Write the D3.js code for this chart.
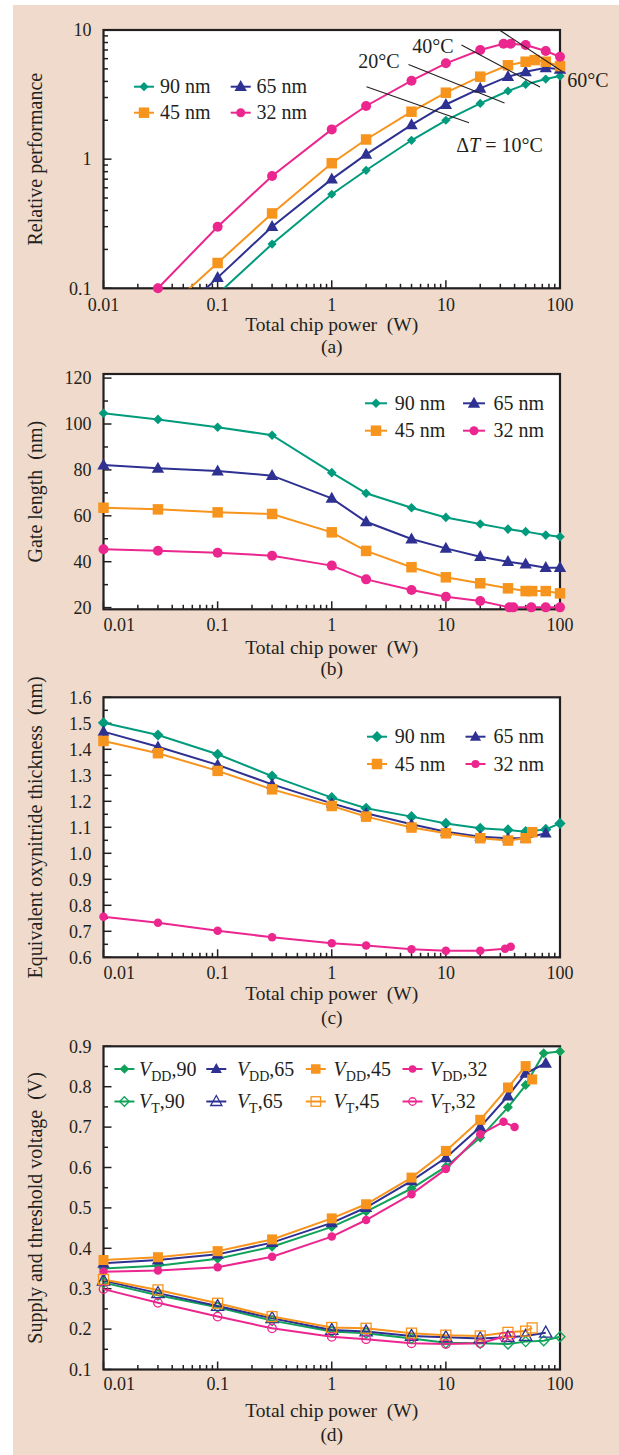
<!DOCTYPE html>
<html><head><meta charset="utf-8">
<script src="https://cdn.jsdelivr.net/npm/d3@7"></script>
<style>
body{margin:0;background:#fff}
svg{display:block}
svg text{font-family:"Liberation Serif","DejaVu Serif",serif;fill:#231f20}
</style>
</head><body>
<svg id="c" width="619" height="1455" font-family="Liberation Serif, DejaVu Serif, serif"></svg>
<script>
// ---------- DATA ----------
const powerTicks = [0.01, 0.1, 1, 10, 100];
const powerTickLabels = ["0.01", "0.1", "1", "10", "100"];

// (a) Relative performance
const a_x90 = [0.1, 0.3, 1, 2, 5, 10, 20, 35, 50, 75, 100];
const a_y90 = [0.09, 0.22, 0.535, 0.82, 1.40, 2.0, 2.70, 3.37, 3.79, 4.17, 4.4];
const a_x65 = [0.03, 0.1, 0.3, 1, 2, 5, 10, 20, 35, 50, 75, 100];
const a_y65 = [0.045, 0.121, 0.30, 0.70, 1.09, 1.84, 2.65, 3.53, 4.35, 4.75, 5.1, 4.96];
const a_x45 = [0.03, 0.1, 0.3, 1, 2, 5, 10, 20, 35, 50, 60, 75, 100];
const a_y45 = [0.06, 0.157, 0.38, 0.93, 1.42, 2.33, 3.27, 4.35, 5.33, 5.68, 5.85, 5.68, 5.26];
const a_x32 = [0.03, 0.1, 0.3, 1, 2, 5, 10, 20, 32, 37, 50, 75, 100];
const a_y32 = [0.1, 0.30, 0.74, 1.70, 2.58, 4.05, 5.52, 7.0, 7.83, 7.83, 7.65, 6.88, 6.2];
const a_yTicks = [0.1, 1, 10];
const a_yTickLabels = ["0.1", "1", "10"];

// (b) Gate length (nm)
const b_x90 = [0.01, 0.03, 0.1, 0.3, 1, 2, 5, 10, 20, 35, 50, 75, 100];
const b_y90 = [104.7, 102.0, 98.6, 95.1, 78.8, 69.8, 63.5, 59.3, 56.4, 54.2, 53.1, 51.6, 50.9];
const b_x65 = [0.01, 0.03, 0.1, 0.3, 1, 2, 5, 10, 20, 35, 50, 75, 100];
const b_y65 = [82.1, 80.7, 79.5, 77.5, 67.6, 57.4, 49.9, 45.8, 42.2, 40.0, 38.9, 37.4, 37.4];
const b_x45 = [0.01, 0.03, 0.1, 0.3, 1, 2, 5, 10, 20, 35, 50, 57, 75, 100];
const b_y45 = [63.5, 62.8, 61.5, 60.8, 52.8, 44.7, 37.6, 33.2, 30.6, 28.4, 27.2, 27.2, 27.2, 26.2];
const b_x32 = [0.01, 0.03, 0.1, 0.3, 1, 2, 5, 10, 20, 36, 39, 56, 75, 100];
const b_y32 = [45.4, 44.8, 43.9, 42.6, 38.3, 32.3, 27.7, 24.7, 22.9, 20.1, 20.1, 20.1, 20.1, 20.1];
const b_yTicks = [20, 40, 60, 80, 100, 120];
const b_yMinor = [30, 50, 70, 90, 110];

// (c) Equivalent oxynitride thickness (nm)
const c_x90 = [0.01, 0.03, 0.1, 0.3, 1, 2, 5, 10, 20, 35, 50, 75, 100];
const c_y90 = [1.502, 1.455, 1.381, 1.297, 1.214, 1.173, 1.141, 1.115, 1.096, 1.090, 1.083, 1.092, 1.115];
const c_x65 = [0.01, 0.03, 0.1, 0.3, 1, 2, 5, 10, 20, 35, 50, 75];
const c_y65 = [1.468, 1.410, 1.340, 1.265, 1.192, 1.154, 1.112, 1.083, 1.064, 1.058, 1.058, 1.077];
const c_x45 = [0.01, 0.03, 0.1, 0.3, 1, 2, 5, 10, 20, 35, 50, 57];
const c_y45 = [1.432, 1.385, 1.317, 1.246, 1.182, 1.141, 1.099, 1.077, 1.058, 1.049, 1.058, 1.081];
const c_x32 = [0.01, 0.03, 0.1, 0.3, 1, 2, 5, 10, 20, 33, 37];
const c_y32 = [0.756, 0.733, 0.702, 0.677, 0.654, 0.645, 0.631, 0.625, 0.625, 0.633, 0.641];
const c_yTicks = [0.6, 0.7, 0.8, 0.9, 1.0, 1.1, 1.2, 1.3, 1.4, 1.5, 1.6];
const c_yMinor = [0.65, 0.75, 0.85, 0.95, 1.05, 1.15, 1.25, 1.35, 1.45, 1.55];

// (d) Supply and threshold voltage (V)
const d_xVdd90 = [0.01, 0.03, 0.1, 0.3, 1, 2, 5, 10, 20, 35, 50, 72, 100];
const d_yVdd90 = [0.350, 0.357, 0.374, 0.404, 0.453, 0.491, 0.548, 0.602, 0.674, 0.749, 0.804, 0.883, 0.887];
const d_xVdd65 = [0.01, 0.03, 0.1, 0.3, 1, 2, 5, 10, 20, 35, 50, 75];
const d_yVdd65 = [0.363, 0.371, 0.385, 0.414, 0.463, 0.501, 0.567, 0.624, 0.700, 0.777, 0.833, 0.858];
const d_xVdd45 = [0.01, 0.03, 0.1, 0.3, 1, 2, 5, 10, 20, 35, 50, 57];
const d_yVdd45 = [0.371, 0.378, 0.393, 0.422, 0.474, 0.509, 0.575, 0.641, 0.718, 0.798, 0.851, 0.818];
const d_xVdd32 = [0.01, 0.03, 0.1, 0.3, 1, 2, 5, 10, 20, 32, 40];
const d_yVdd32 = [0.342, 0.345, 0.353, 0.379, 0.429, 0.470, 0.534, 0.596, 0.682, 0.713, 0.700];
const d_xVt90 = [0.01, 0.03, 0.1, 0.3, 1, 2, 5, 10, 20, 35, 50, 72, 100];
const d_yVt90 = [0.315, 0.284, 0.254, 0.221, 0.194, 0.190, 0.177, 0.166, 0.165, 0.163, 0.169, 0.171, 0.181];
const d_xVt65 = [0.01, 0.03, 0.1, 0.3, 1, 2, 5, 10, 20, 35, 50, 75];
const d_yVt65 = [0.320, 0.289, 0.257, 0.227, 0.198, 0.194, 0.183, 0.180, 0.177, 0.180, 0.183, 0.191];
const d_xVt45 = [0.01, 0.03, 0.1, 0.3, 1, 2, 5, 10, 20, 35, 50, 57];
const d_yVt45 = [0.323, 0.297, 0.264, 0.231, 0.204, 0.202, 0.190, 0.185, 0.183, 0.192, 0.195, 0.203];
const d_xVt32 = [0.01, 0.03, 0.1, 0.3, 1, 2, 5, 10, 20, 32, 37];
const d_yVt32 = [0.299, 0.265, 0.231, 0.202, 0.181, 0.175, 0.165, 0.163, 0.165, 0.181, 0.183];
const d_yTicks = [0.1, 0.2, 0.3, 0.4, 0.5, 0.6, 0.7, 0.8, 0.9];
const d_yMinor = [0.15, 0.25, 0.35, 0.45, 0.55, 0.65, 0.75, 0.85];

const nodeLabels = ["90 nm", "65 nm", "45 nm", "32 nm"];

// ---------- STYLE ----------
const FONT = "Liberation Serif, DejaVu Serif, serif";
const INK = "#231f20";
const cGreen = "#009a7c", cGreenD = "#10a25a", cBlue = "#2e3192", cOrange = "#f7941d", cPink = "#ec268f";
const L = 103.5, R = 560;
const x = d3.scaleLog().domain([0.01, 100]).range([L, R]);

const svg = d3.select("#c");
svg.append("rect").attr("x", 13).attr("y", 5).attr("width", 606).attr("height", 1450).attr("fill", "#efdacb");
const defs = svg.append("defs");

function txt(g) { return g.append("text").attr("font-family", FONT).attr("fill", INK); }

function logTicks(lo, hi) {
  const out = [];
  for (let e = Math.floor(Math.log10(lo)); e <= Math.ceil(Math.log10(hi)); e++)
    for (let k = 1; k < 10; k++) {
      const v = k * Math.pow(10, e);
      if (v >= lo * 0.999 && v <= hi * 1.001) out.push({ v, major: k === 1 });
    }
  return out;
}

function marker(g, shape, cx, cy, sz, color, open) {
  let el;
  if (shape === "diamond") {
    const s = sz;
    el = g.append("path").attr("d", `M${cx},${cy - s}L${cx + s},${cy}L${cx},${cy + s}L${cx - s},${cy}Z`);
  } else if (shape === "square") {
    el = g.append("rect").attr("x", cx - sz / 2).attr("y", cy - sz / 2).attr("width", sz).attr("height", sz);
  } else if (shape === "triangle") {
    const w = sz * 1.12, h = sz;
    el = g.append("path").attr("d", `M${cx},${cy - h * 0.6}L${cx + w / 2},${cy + h * 0.4}L${cx - w / 2},${cy + h * 0.4}Z`);
  } else {
    el = g.append("circle").attr("cx", cx).attr("cy", cy).attr("r", sz / 2);
  }
  if (open) el.attr("fill", "none").attr("stroke", color).attr("stroke-width", 1.3);
  else el.attr("fill", color);
}

let clipId = 0;
function panel(o) {
  const g = svg.append("g");
  const y = o.y, top = o.top, bot = o.bottom;
  g.append("rect").attr("x", L).attr("y", top).attr("width", R - L).attr("height", bot - top).attr("fill", "#fff");
  logTicks(0.01, 100).forEach(t => {
    g.append("line").attr("x1", x(t.v)).attr("x2", x(t.v)).attr("y1", bot).attr("y2", bot - (t.major ? 8 : 4.5))
      .attr("stroke", INK).attr("stroke-width", 1.5);
  });
  o.yMajor.forEach(v => g.append("line").attr("x1", L).attr("x2", L + 8).attr("y1", y(v)).attr("y2", y(v)).attr("stroke", INK).attr("stroke-width", 1.5));
  o.yMinor.forEach(v => g.append("line").attr("x1", L).attr("x2", L + 4.5).attr("y1", y(v)).attr("y2", y(v)).attr("stroke", INK).attr("stroke-width", 1.5));
  g.append("rect").attr("x", L).attr("y", top).attr("width", R - L).attr("height", bot - top)
    .attr("fill", "none").attr("stroke", INK).attr("stroke-width", 2.2);
  powerTicks.forEach((v, i) => {
    const t = txt(g).attr("y", o.xLabBase).attr("font-size", 18).text(powerTickLabels[i]);
    if (i === 0 && o.shiftFirst) t.attr("x", L).attr("text-anchor", "start");
    else t.attr("x", x(v)).attr("text-anchor", "middle");
  });
  o.yMajor.forEach((v, i) => {
    txt(g).attr("x", 91.5).attr("y", y(v)).attr("dy", "0.35em").attr("text-anchor", "end")
      .attr("font-size", 18).text(o.yFmt(v, i));
  });
  const cx = (L + R) / 2;
  txt(g).attr("x", cx).attr("y", o.xTitleBase).attr("text-anchor", "middle").attr("font-size", 19.5)
    .text("Total chip power\u00a0\u00a0(W)");
  txt(g).attr("x", cx).attr("y", o.letterBase).attr("text-anchor", "middle").attr("font-size", 19.5).text(o.letter);
  txt(g).attr("transform", `translate(42,${(top + bot) / 2}) rotate(-90)`).attr("text-anchor", "middle")
    .attr("font-size", 20).text(o.yTitle);
  const sg = g.append("g");
  if (o.clip) {
    const id = "clip" + (clipId++);
    defs.append("clipPath").attr("id", id).append("rect").attr("x", L).attr("y", top).attr("width", R - L).attr("height", bot - top);
    sg.attr("clip-path", `url(#${id})`);
  }
  const line = d3.line().x(d => x(d[0])).y(d => y(d[1]));
  o.series.forEach(s => {
    const pts = s.xs.map((v, i) => [v, s.ys[i]]);
    sg.append("path").attr("d", line(pts)).attr("fill", "none").attr("stroke", s.color).attr("stroke-width", 2);
  });
  const mg = g.append("g");
  const [dlo, dhi] = y.domain();
  o.series.forEach(s => {
    s.xs.forEach((v, i) => {
      const yv = s.ys[i];
      if (yv < Math.min(dlo, dhi) * 0.999) return;
      marker(mg, s.shape, x(v), y(yv), s.size, s.color, s.open);
    });
  });
  o.legend.forEach(e => {
    g.append("line").attr("x1", e.mx - e.half).attr("x2", e.mx + e.half).attr("y1", e.y).attr("y2", e.y)
      .attr("stroke", e.color).attr("stroke-width", 2);
    marker(g, e.shape, e.mx, e.y, e.size, e.color, e.open);
    const t = txt(g).attr("x", e.tx).attr("y", e.y + 6.5).attr("font-size", 20);
    if (e.sub) {
      t.append("tspan").attr("font-style", "italic").text("V");
      t.append("tspan").attr("font-size", 14).attr("dy", 5).text(e.sub);
      t.append("tspan").attr("dy", -5).text("," + e.num);
    } else t.text(e.label);
  });
  return g;
}

// ---------- PANEL (a) ----------
const yA = d3.scaleLog().domain([0.1, 10]).range([288.3, 30]);
const aMinor = logTicks(0.1, 10).filter(t => !t.major).map(t => t.v);
const ga = panel({
  top: 30, bottom: 288.3, y: yA, yMajor: a_yTicks, yMinor: aMinor, yFmt: (v, i) => a_yTickLabels[i],
  xLabBase: 310.5, xTitleBase: 330.5, letterBase: 353, letter: "(a)", yTitle: "Relative performance",
  shiftFirst: false, clip: true,
  series: [
    { xs: a_x90, ys: a_y90, color: cGreen, shape: "diamond", size: 4.6 },
    { xs: a_x65, ys: a_y65, color: cBlue, shape: "triangle", size: 11 },
    { xs: a_x45, ys: a_y45, color: cOrange, shape: "square", size: 10.5 },
    { xs: a_x32, ys: a_y32, color: cPink, shape: "circle", size: 10 }
  ],
  legend: [
    { mx: 144, y: 86.7, half: 10, tx: 160, color: cGreen, shape: "diamond", size: 4.6, label: nodeLabels[0] },
    { mx: 240.7, y: 86.7, half: 10, tx: 256.6, color: cBlue, shape: "triangle", size: 11, label: nodeLabels[1] },
    { mx: 144, y: 112.7, half: 10, tx: 160, color: cOrange, shape: "square", size: 10.5, label: nodeLabels[2] },
    { mx: 240.7, y: 112.7, half: 10, tx: 256.6, color: cPink, shape: "circle", size: 9, label: nodeLabels[3] }
  ]
});
const iso = [
  { x1: 366.5, y1: 86.7, x2: 469, y2: 122.7 },
  { x1: 408.5, y1: 64.5, x2: 504.5, y2: 103 },
  { x1: 461.5, y1: 45, x2: 540, y2: 87 },
  { x1: 499.4, y1: 30, x2: 562.6, y2: 71.7 }
];
iso.forEach(l => ga.append("line").attr("x1", l.x1).attr("y1", l.y1).attr("x2", l.x2).attr("y2", l.y2)
  .attr("stroke", INK).attr("stroke-width", 1.1));
const isoLab = [
  { x: 379, y: 68.3, t: "20\u00b0C" },
  { x: 433, y: 53.3, t: "40\u00b0C" },
  { x: 588, y: 87.3, t: "60\u00b0C" }
];
isoLab.forEach(l => txt(ga).attr("x", l.x).attr("y", l.y).attr("text-anchor", "middle").attr("font-size", 20).text(l.t));
const dT = txt(ga).attr("x", 499.5).attr("y", 151.7).attr("text-anchor", "middle").attr("font-size", 20);
dT.append("tspan").text("\u0394");
dT.append("tspan").attr("font-style", "italic").text("T");
dT.append("tspan").text(" = 10\u00b0C");

// ---------- PANEL (b) ----------
panel({
  top: 374, bottom: 609.3, y: d3.scaleLinear().domain([20, 120]).range([607.6, 378.1]),
  yMajor: b_yTicks, yMinor: b_yMinor, yFmt: v => String(v),
  xLabBase: 631, xTitleBase: 653.8, letterBase: 675, letter: "(b)", yTitle: "Gate length\u00a0\u00a0(nm)",
  shiftFirst: true,
  series: [
    { xs: b_x90, ys: b_y90, color: cGreen, shape: "diamond", size: 4.8 },
    { xs: b_x65, ys: b_y65, color: cBlue, shape: "triangle", size: 11 },
    { xs: b_x45, ys: b_y45, color: cOrange, shape: "square", size: 10.5 },
    { xs: b_x32, ys: b_y32, color: cPink, shape: "circle", size: 10 }
  ],
  legend: [
    { mx: 376, y: 403.3, half: 11, tx: 394.8, color: cGreen, shape: "diamond", size: 4.8, label: nodeLabels[0] },
    { mx: 474, y: 403.3, half: 11, tx: 493.5, color: cBlue, shape: "triangle", size: 11, label: nodeLabels[1] },
    { mx: 376, y: 430.7, half: 11, tx: 394.8, color: cOrange, shape: "square", size: 10.5, label: nodeLabels[2] },
    { mx: 474, y: 430.7, half: 11, tx: 493.5, color: cPink, shape: "circle", size: 9, label: nodeLabels[3] }
  ]
});

// ---------- PANEL (c) ----------
panel({
  top: 697.3, bottom: 957.3, y: d3.scaleLinear().domain([0.6, 1.6]).range([957.3, 697.3]),
  yMajor: c_yTicks, yMinor: c_yMinor, yFmt: v => v.toFixed(1),
  xLabBase: 979, xTitleBase: 1000, letterBase: 1023.5, letter: "(c)",
  yTitle: "Equivalent oxynitride thickness\u00a0\u00a0(nm)", shiftFirst: true,
  series: [
    { xs: c_x90, ys: c_y90, color: cGreen, shape: "diamond", size: 5.6 },
    { xs: c_x65, ys: c_y65, color: cBlue, shape: "triangle", size: 10.5 },
    { xs: c_x45, ys: c_y45, color: cOrange, shape: "square", size: 10.5 },
    { xs: c_x32, ys: c_y32, color: cPink, shape: "circle", size: 8.5 }
  ],
  legend: [
    { mx: 377, y: 736.7, half: 10, tx: 394.8, color: cGreen, shape: "diamond", size: 5.6, label: nodeLabels[0] },
    { mx: 475.5, y: 736.7, half: 10, tx: 493.5, color: cBlue, shape: "triangle", size: 10, label: nodeLabels[1] },
    { mx: 377, y: 764, half: 10, tx: 394.8, color: cOrange, shape: "square", size: 10.5, label: nodeLabels[2] },
    { mx: 475.5, y: 764, half: 10, tx: 493.5, color: cPink, shape: "circle", size: 8, label: nodeLabels[3] }
  ]
});

// ---------- PANEL (d) ----------
panel({
  top: 1046.3, bottom: 1369.5, y: d3.scaleLinear().domain([0.1, 0.9]).range([1369.5, 1046.3]),
  yMajor: d_yTicks, yMinor: d_yMinor, yFmt: v => v.toFixed(1),
  xLabBase: 1390, xTitleBase: 1416.5, letterBase: 1441.4, letter: "(d)",
  yTitle: "Supply and threshold voltage\u00a0\u00a0(V)", shiftFirst: true,
  series: [
    { xs: d_xVdd90, ys: d_yVdd90, color: cGreenD, shape: "diamond", size: 5 },
    { xs: d_xVdd65, ys: d_yVdd65, color: cBlue, shape: "triangle", size: 11 },
    { xs: d_xVdd45, ys: d_yVdd45, color: cOrange, shape: "square", size: 10 },
    { xs: d_xVdd32, ys: d_yVdd32, color: cPink, shape: "circle", size: 8.5 },
    { xs: d_xVt90, ys: d_yVt90, color: cGreenD, shape: "diamond", size: 5, open: true },
    { xs: d_xVt65, ys: d_yVt65, color: cBlue, shape: "triangle", size: 11, open: true },
    { xs: d_xVt45, ys: d_yVt45, color: cOrange, shape: "square", size: 10, open: true },
    { xs: d_xVt32, ys: d_yVt32, color: cPink, shape: "circle", size: 8.5, open: true }
  ],
  legend: [
    { mx: 124.4, y: 1069, half: 10, tx: 139, color: cGreenD, shape: "diamond", size: 4.8, sub: "DD", num: "90" },
    { mx: 216.3, y: 1069, half: 10, tx: 236.9, color: cBlue, shape: "triangle", size: 10, sub: "DD", num: "65" },
    { mx: 315.8, y: 1069, half: 10, tx: 333.6, color: cOrange, shape: "square", size: 9.5, sub: "DD", num: "45" },
    { mx: 412.5, y: 1069, half: 10, tx: 430, color: cPink, shape: "circle", size: 7.5, sub: "DD", num: "32" },
    { mx: 124.4, y: 1101.5, half: 10, tx: 139, color: cGreenD, shape: "diamond", size: 4.8, open: true, sub: "T", num: "90" },
    { mx: 216.3, y: 1101.5, half: 10, tx: 236.9, color: cBlue, shape: "triangle", size: 10, open: true, sub: "T", num: "65" },
    { mx: 315.8, y: 1101.5, half: 10, tx: 333.6, color: cOrange, shape: "square", size: 9.5, open: true, sub: "T", num: "45" },
    { mx: 412.5, y: 1101.5, half: 10, tx: 430, color: cPink, shape: "circle", size: 7.5, open: true, sub: "T", num: "32" }
  ]
});
</script>
</body></html>
